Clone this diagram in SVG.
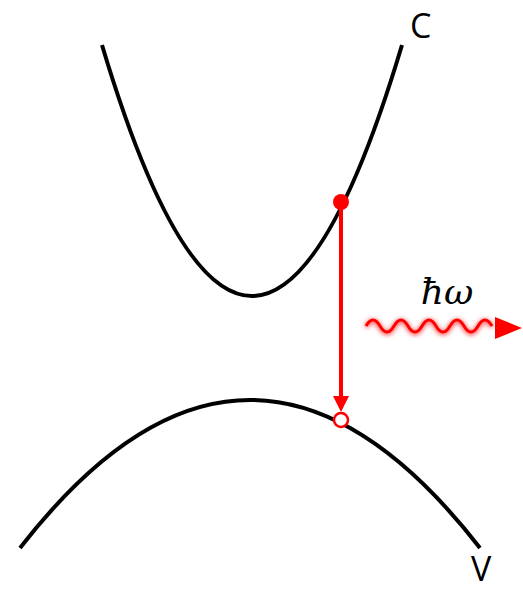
<svg xmlns="http://www.w3.org/2000/svg" width="523" height="590" viewBox="0 0 523 590">
<defs>
<style>
.band{fill:none;stroke:#000;stroke-width:4}
.lbl{font-family:"Open Sans","Liberation Sans",sans-serif;font-size:34px;fill:#000}
</style>
<filter id="blur" x="-10%" y="-50%" width="120%" height="200%"><feGaussianBlur stdDeviation="2"/></filter>
</defs>
<g id="conduction">
<path class="band" d="M102,45 Q252,547 402,45"/>
<text class="lbl" x="410" y="38">C</text>
</g>
<g id="valence">
<path class="band" d="M20,548 Q250,252 480,548"/>
<text class="lbl" x="471" y="581">V</text>
</g>
<g id="connectors">
<line x1="341" y1="202" x2="341" y2="398" stroke="#f00" stroke-width="4"/>
<path d="M333,396 L349,396 L341,412 Z" fill="#f00"/>
</g>
<g id="electron"><circle cx="341" cy="202" r="8" fill="#f00"/></g>
<g id="hole"><circle cx="341" cy="420" r="7" fill="#fff" stroke="#f00" stroke-width="2.5"/></g>
<g id="photon">
<text x="447" y="304" text-anchor="middle" font-family="'DejaVu Serif',serif" font-style="italic" font-size="36" fill="#000">ħω</text>
<path filter="url(#blur)" stroke="#f66" stroke-width="5" fill="none" d="M366,327 q7,-12 14,0 t14,0 t14,0 t14,0 t14,0 t14,0 t14,0 t14,0 t14,0"/>
<path stroke="#f00" stroke-width="3" fill="none" d="M366,326 q7,-12 14,0 t14,0 t14,0 t14,0 t14,0 t14,0 t14,0 t14,0 t14,0"/>
<path d="M495,317 L522,328 L495,339 Z" fill="#f00"/>
</g>
</svg>
